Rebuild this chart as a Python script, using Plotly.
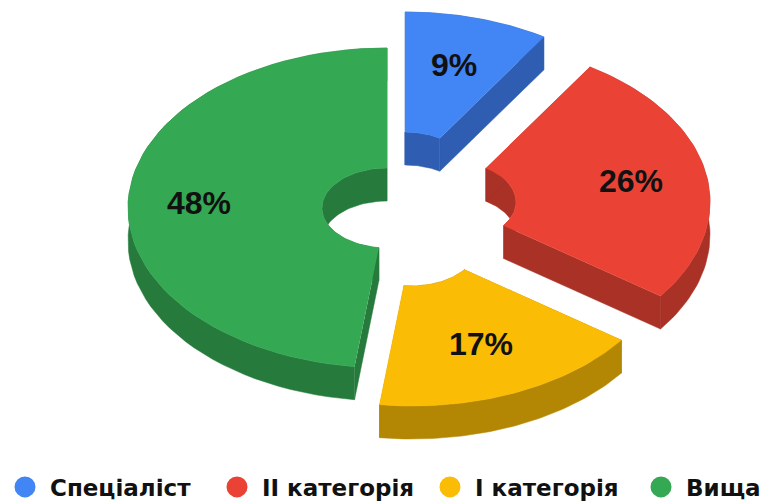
import numpy as np
import plotly.graph_objects as go

categories = ["Спеціаліст", "II категорія", "I категорія", "Вища"]
values = [9, 26, 17, 48]
colors = ["#4285F4", "#EA4335", "#FBBC05", "#34A853"]
dark_colors = ["#2F5DB2", "#A93126", "#B38703", "#257A3C"]

# layout styling, in pixels of the 762x501 picture
centers = [(405, 172), (451, 202), (412, 246), (387, 208)]
label_xy = [(454, 68), (631, 184), (481, 347), (199, 206)]
legend_x = [0, 212, 425, 636]
RX, RY, HX, HY, DEPTH = 259, 160, 65, 40, 33


def arc(cx, cy, rx, ry, a0, a1, dy=0):
    t = np.radians(np.linspace(a0, a1, 60))
    return cx + rx * np.sin(t), cy - ry * np.cos(t) + dy


def poly(fig, xs, ys, color):
    fig.add_trace(go.Scatter(x=xs, y=ys, mode="lines", fill="toself", fillcolor=color,
                             line=dict(color=color, width=0.5), hoverinfo="skip", showlegend=False))


fig = go.Figure()
total = sum(values)
start = 0.0
for val, col, dk, (cx, cy) in zip(values, colors, dark_colors, centers):
    end = start + 360.0 * val / total
    ox, oy = arc(cx, cy, RX, RY, start, end)
    ix, iy = arc(cx, cy, HX, HY, end, start)
    poly(fig, np.r_[ix, ix[::-1]], np.r_[iy, iy[::-1] + DEPTH], dk)
    poly(fig, [ox[0], ox[0], ix[-1], ix[-1]], [oy[0], oy[0] + DEPTH, iy[-1] + DEPTH, iy[-1]], dk)
    poly(fig, [ox[-1], ox[-1], ix[0], ix[0]], [oy[-1], oy[-1] + DEPTH, iy[0] + DEPTH, iy[0]], dk)
    poly(fig, np.r_[ox, ox[::-1]], np.r_[oy, oy[::-1] + DEPTH], dk)
    poly(fig, np.r_[ox, ix], np.r_[oy, iy], col)
    start = end

fig.add_trace(go.Scatter(
    x=[p[0] for p in label_xy], y=[p[1] for p in label_xy],
    text=[f"{v}%" for v in values], mode="text", textposition="middle center",
    textfont=dict(family="Liberation Sans", size=32, color="#111111", weight="bold"),
    hoverinfo="skip", showlegend=False))

layout_legends = {}
for i, (name, col, lx) in enumerate(zip(categories, colors, legend_x)):
    key = "legend" if i == 0 else f"legend{i + 1}"
    fig.add_trace(go.Scatter(x=[None], y=[None], mode="markers", name=name, legend=key,
                             marker=dict(color=col, size=16, symbol="circle",
                                         line=dict(color=col, width=5))))
    layout_legends[key] = dict(
        orientation="h", x=lx / 762, y=(501 - 487) / 501, xanchor="left", yanchor="middle",
        itemwidth=40, bgcolor="rgba(0,0,0,0)",
        font=dict(family="DejaVu Sans", size=23, color="#111111", weight="bold"))

fig.update_layout(
    width=762, height=501, margin=dict(l=0, r=0, t=0, b=0, autoexpand=False),
    paper_bgcolor="white", plot_bgcolor="white",
    xaxis=dict(range=[0, 762], visible=False, fixedrange=True),
    yaxis=dict(range=[501, 0], visible=False, fixedrange=True),
    **layout_legends,
)
fig.write_html("out.html", config={"displayModeBar": False},
               post_script="document.body.style.margin='0';")
